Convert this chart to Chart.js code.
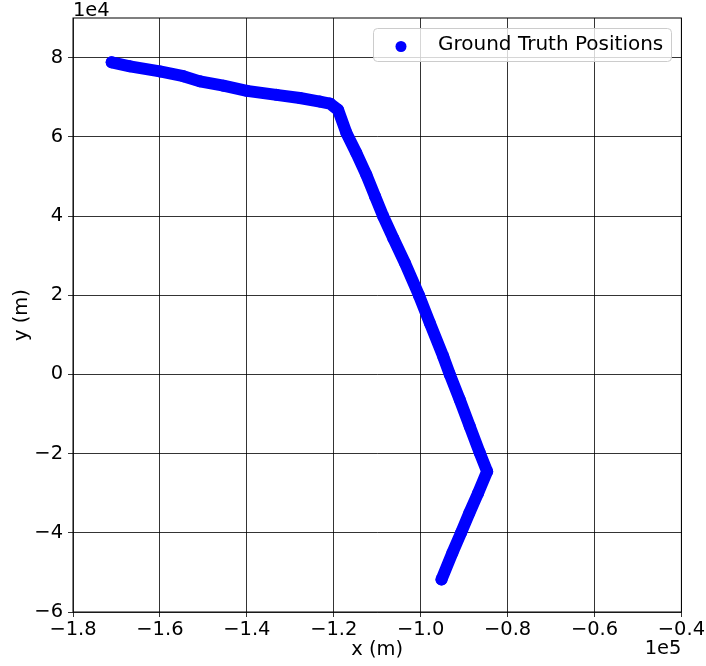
<!DOCTYPE html>
<html>
<head>
<meta charset="utf-8">
<script src="https://cdn.jsdelivr.net/npm/chart.js@4.4.1/dist/chart.umd.min.js"></script>
<style>
  html, body { margin: 0; padding: 0; background: #fff; }
  #wrap { width: 706px; height: 666px; }
</style>
</head>
<body>
<div id="wrap"><canvas id="posChart" width="706" height="666"></canvas></div>
<script>
// ground truth track, metres
const xPos = [-171100, -166900, -160000, -154600, -150800, -145400, -140000, -133200, -127800, -123200,
  -120900, -119000, -117100, -114800, -112500, -110500, -108600, -106300, -103600, -100400,
  -97900, -94800, -93300, -91000, -88700, -86400, -84700, -86800, -88800, -90700, -92700, -95200];
const yPos = [78800, 77800, 76500, 75300, 74000, 72900, 71600, 70600, 69800, 68900,
  68400, 66800, 61000, 55900, 50400, 45000, 39900, 34400, 28100, 20000,
  13000, 4500, 0, -6400, -13100, -19800, -24500, -30000, -35000, -40000, -45100, -51800];

const xTicks = [-180000, -160000, -140000, -120000, -100000, -80000, -60000, -40000];
const yTicks = [-60000, -40000, -20000, 0, 20000, 40000, 60000, 80000];

const seriesLabel = 'Ground Truth Positions';
const FONT = 'DejaVu Sans';
const FS = 19.44;

function fmt(v, scale, digits) {
  const s = (v / scale).toFixed(digits);
  return s.replace('-', '\u2212');
}

// spines, offset labels and the legend box
const extras = {
  id: 'extras',
  afterDatasetsDraw(chart) {
    const { ctx, chartArea: a } = chart;
    ctx.save();
    ctx.strokeStyle = '#000';
    ctx.lineWidth = 1;
    ctx.strokeRect(a.left, a.top, a.right - a.left, a.bottom - a.top);

    ctx.fillStyle = '#000';
    ctx.font = FS + 'px "' + FONT + '"';
    ctx.textBaseline = 'alphabetic';
    ctx.textAlign = 'left';
    ctx.fillText('1e4', a.left, a.top - 2);
    ctx.textAlign = 'right';
    ctx.fillText('1e5', a.right, a.bottom + 42);

    // legend
    const bx = 373.5, by = 28.5, bw = 298, bh = 33, r = 4;
    ctx.beginPath();
    ctx.roundRect(bx, by, bw, bh, r);
    ctx.fillStyle = 'rgba(255,255,255,0.8)';
    ctx.fill();
    ctx.strokeStyle = '#cccccc';
    ctx.stroke();
    ctx.beginPath();
    ctx.arc(401, 46.5, 5.5, 0, Math.PI * 2);
    ctx.fillStyle = chart.data.datasets[0].backgroundColor;
    ctx.fill();
    ctx.fillStyle = '#000';
    ctx.font = '20px "' + FONT + '"';
    ctx.textAlign = 'left';
    ctx.textBaseline = 'middle';
    ctx.fillText(chart.data.datasets[0].label, 438, 45);
    ctx.restore();
  }
};

const points = xPos.map((x, i) => ({ x: x, y: yPos[i] }));

new Chart(document.getElementById('posChart'), {
  type: 'scatter',
  data: {
    datasets: [{
      label: seriesLabel,
      data: points,
      backgroundColor: '#0000ff',
      borderColor: '#0000ff',
      showLine: true,
      borderWidth: 12,
      borderCapStyle: 'round',
      borderJoinStyle: 'round',
      pointRadius: 6,
      pointHoverRadius: 6,
      pointBorderWidth: 0
    }]
  },
  options: {
    responsive: false,
    animation: false,
    layout: { padding: { top: 18, right: 24, left: 0, bottom: 0 } },
    plugins: {
      legend: { display: false },
      tooltip: { enabled: false }
    },
    scales: {
      x: {
        type: 'linear',
        min: -180000,
        max: -40000,
        afterFit: s => { s.height = 54; },
        afterBuildTicks: s => { s.ticks = xTicks.map(v => ({ value: v })); },
        ticks: {
          color: '#000',
          font: { family: FONT, size: FS },
          padding: 1,
          maxRotation: 0,
          autoSkip: false,
          callback: v => fmt(v, 1e5, 1)
        },
        grid: { color: '#000', lineWidth: 0.8, tickLength: 5, tickColor: '#000' },
        border: { display: false },
        title: {
          display: true,
          text: 'x (m)',
          color: '#000',
          font: { family: FONT, size: FS },
          padding: { top: 0, bottom: 4 }
        }
      },
      y: {
        type: 'linear',
        min: -60000,
        max: 90000,
        afterFit: s => { s.width = 73; },
        afterBuildTicks: s => { s.ticks = yTicks.map(v => ({ value: v })); },
        ticks: {
          color: '#000',
          font: { family: FONT, size: FS },
          padding: 5,
          autoSkip: false,
          callback: v => fmt(v, 1e4, 0)
        },
        grid: { color: '#000', lineWidth: 0.8, tickLength: 5, tickColor: '#000' },
        border: { display: false },
        title: {
          display: true,
          text: 'y (m)',
          color: '#000',
          font: { family: FONT, size: FS },
          padding: { top: 10, bottom: 0 }
        }
      }
    }
  },
  plugins: [extras]
});
</script>
</body>
</html>
